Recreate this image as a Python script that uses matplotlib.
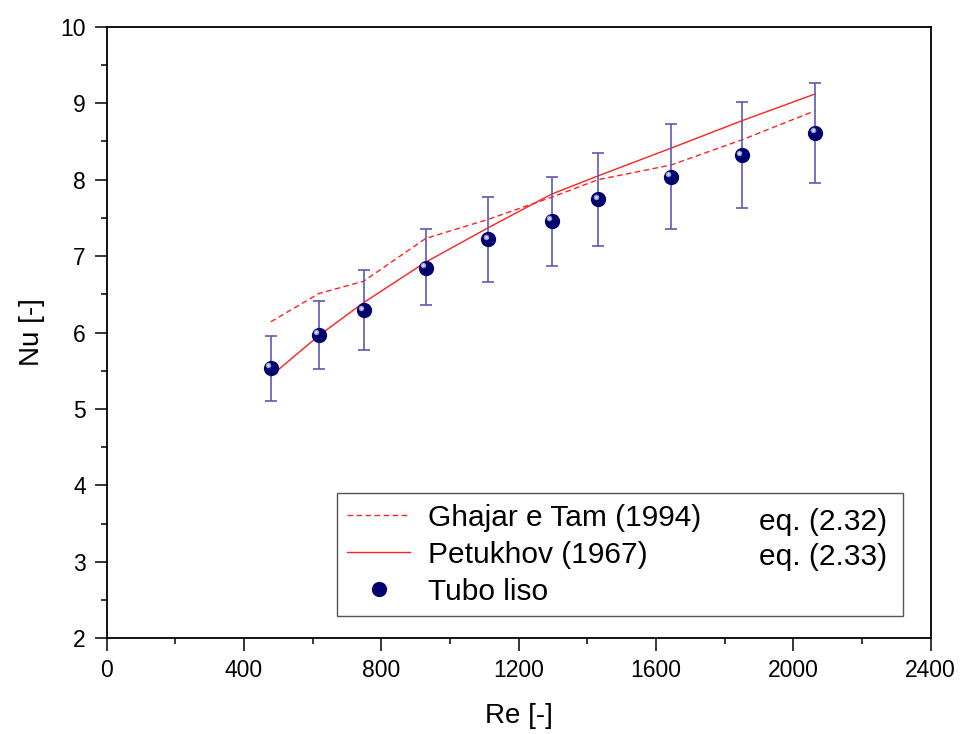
import numpy as np
import matplotlib
matplotlib.use('Agg')
import matplotlib.pyplot as plt
from matplotlib.ticker import MultipleLocator
from matplotlib.transforms import offset_copy

# dados experimentais (tubo liso)
Re = [478, 618, 748, 929, 1111, 1296, 1432, 1643, 1850, 2063]
Nu = [5.54, 5.97, 6.29, 6.85, 7.22, 7.46, 7.74, 8.04, 8.32, 8.61]
Nu_sup = [5.96, 6.41, 6.82, 7.35, 7.77, 8.04, 8.35, 8.73, 9.01, 9.26]
Nu_inf = [5.11, 5.52, 5.77, 6.36, 6.66, 6.87, 7.13, 7.35, 7.63, 7.96]

# correlacoes
Nu_ghajar = [6.14, 6.51, 6.67, 7.23, 7.48, 7.77, 8.00, 8.19, 8.52, 8.90]
Nu_petukhov = [5.43, 5.96, 6.39, 6.92, 7.37, 7.81, 8.05, 8.41, 8.77, 9.12]

plt.rcParams['font.family'] = ['Liberation Sans', 'DejaVu Sans']
plt.rcParams['xtick.direction'] = 'out'
plt.rcParams['ytick.direction'] = 'out'

fig = plt.figure(figsize=(9.62, 7.34), dpi=100)
ax = fig.add_axes([0.1109, 0.1304, 0.8566, 0.8332])

err_low = np.array(Nu) - np.array(Nu_inf)
err_up = np.array(Nu_sup) - np.array(Nu)

ax.plot(Re, Nu_ghajar, color='#ff2020', linewidth=1.0, dashes=(4, 2.5),
        label='Ghajar e Tam (1994)')
ax.plot(Re, Nu_petukhov, color='#ff2020', linewidth=1.0, label='Petukhov (1967)')

ax.errorbar(Re, Nu, yerr=[err_low, err_up], fmt='none', ecolor='#5a5ab4',
            elinewidth=1.2, capsize=4.5, capthick=1.2, zorder=3)
ax.plot(Re, Nu, 'o', color='#00006e', markersize=11, markeredgewidth=0,
        zorder=4, label='Tubo liso')
# brilho das esferas
hl = offset_copy(ax.transData, fig=fig, x=-2.5, y=2.5, units='dots')
ax.plot(Re, Nu, 'o', color='#8f9cc8', markersize=4, markeredgewidth=0,
        transform=hl, zorder=5)
ax.plot(Re, Nu, 'o', color='#e8ecf6', markersize=1.8, markeredgewidth=0,
        transform=hl, zorder=6)

ax.set_xlim(0, 2400)
ax.set_ylim(2, 10)
ax.xaxis.set_major_locator(MultipleLocator(400))
ax.xaxis.set_minor_locator(MultipleLocator(200))
ax.yaxis.set_major_locator(MultipleLocator(1))
ax.yaxis.set_minor_locator(MultipleLocator(0.5))
ax.tick_params(which='major', length=9, width=1.1, labelsize=16.5, pad=6)
ax.tick_params(which='minor', length=4.5, width=1.1)
for s in ax.spines.values():
    s.set_linewidth(1.3)

ax.set_xlabel('Re [-]', fontsize=20, labelpad=15)
ax.set_ylabel('Nu [-]', fontsize=20, labelpad=11)

leg = ax.legend(loc='lower left', bbox_to_anchor=(0.2795, 0.0365, 0.6865, 0.193),
                mode='expand', borderaxespad=0, fontsize=21.5, handlelength=2.1,
                handletextpad=0.6, labelspacing=0.3, borderpad=0.35,
                fancybox=False, framealpha=1, edgecolor='#555555')
leg.get_frame().set_linewidth(1.0)

ax.text(0.7916, 0.190, 'eq. (2.32)', transform=ax.transAxes, fontsize=21.5,
        va='center', ha='left', zorder=10)
ax.text(0.7916, 0.133, 'eq. (2.33)', transform=ax.transAxes, fontsize=21.5,
        va='center', ha='left', zorder=10)

fig.savefig('out.png', dpi=100)
